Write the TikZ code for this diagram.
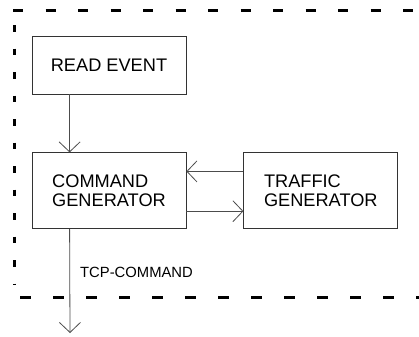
\documentclass[tikz,border=0pt]{standalone}
\usepackage{fontspec}
\setmainfont{Liberation Sans}
\usetikzlibrary{arrows.meta, positioning}

\tikzset{
  block/.style={draw=black!80, line width=0.8bp, minimum width=154bp,
    align=left, inner sep=0pt, font=\fontsize{18.2bp}{19bp}\selectfont},
  flow/.style={draw=black!70, line width=0.8bp,
    -{Straight Barb[length=10bp, width=21bp, line width=0.8bp]}},
  frame/.style={line width=3bp},
}

\begin{document}
\begin{tikzpicture}[x=1bp, y=-1bp]
\useasboundingbox (0,0) rectangle (419,337);
% boundary of the subsystem
\draw[frame, dash pattern=on 10bp off 22.5bp] (13,10)--(419,10);
\draw[frame, dash pattern=on 6.5bp off 17bp] (14,25)--(14,285);
\draw[frame, dash pattern=on 11bp off 22bp] (20,297)--(419,297);
% blocks
\node[block, minimum height=58bp] (read) at (109,65) {READ EVENT};
\node[block, minimum height=76bp, below=58bp of read] (cmd) {COMMAND\\GENERATOR};
\node[block, minimum height=76bp, right=57bp of cmd] (traffic) {TRAFFIC\\GENERATOR};
\coordinate (out) at (70,333);
\node[anchor=west, inner sep=0pt, font=\fontsize{14.8bp}{16bp}\selectfont] (tcp) at (80,272) {TCP-COMMAND};
% connectors
\draw[flow] ([xshift=38bp]read.south west)--([xshift=38bp]cmd.north west);
\draw[flow] ([yshift=-19bp]traffic.north west)--([yshift=-19bp]cmd.north east);
\draw[flow] ([yshift=18bp]cmd.south east)--([yshift=18bp]traffic.south west);
\draw[flow] ([xshift=38bp]cmd.south west)--(out);
\end{tikzpicture}
\end{document}
